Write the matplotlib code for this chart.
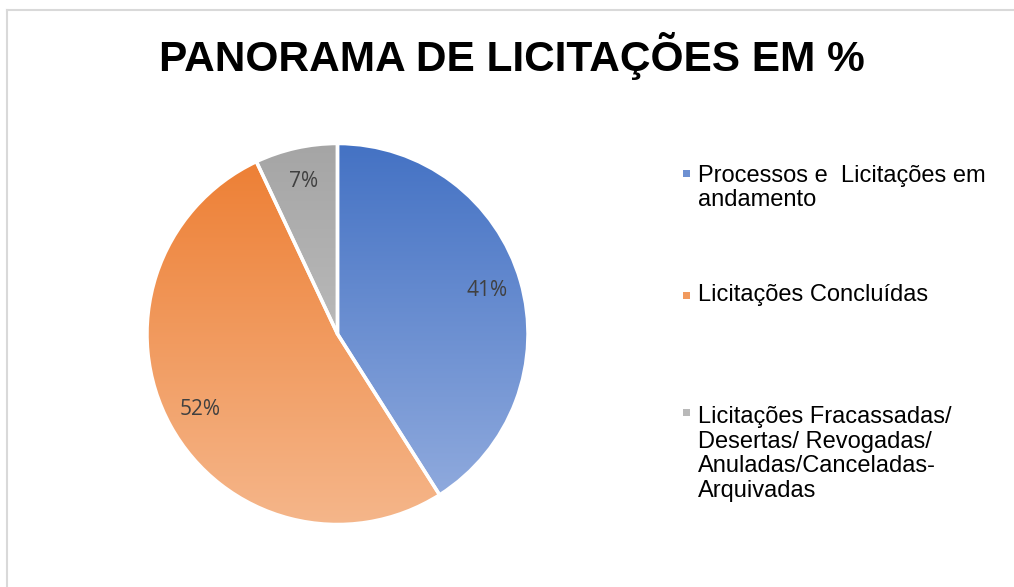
import numpy as np
from matplotlib import pyplot as plt
from matplotlib import colors as mcolors
from matplotlib.patches import Rectangle
from matplotlib.lines import Line2D

labels = ["Processos e  Licitações em\nandamento",
          "Licitações Concluídas",
          "Licitações Fracassadas/\nDesertas/ Revogadas/\nAnuladas/Canceladas-\nArquivadas"]
values = [41, 52, 7]
top_colors = ["#4472C4", "#ED7D31", "#A5A5A5"]
bottom_colors = ["#95AEDF", "#F5B68A", "#CDCDCD"]

W, H = 1014, 587
fig = plt.figure(figsize=(W / 100, H / 100), dpi=100)
fig.patch.set_facecolor("white")

# chart border (light gray), only top and left visible
fig.lines.append(Line2D([6.5 / W, 1.05], [1 - 9.5 / H, 1 - 9.5 / H], transform=fig.transFigure,
                        color="#D9D9D9", linewidth=1.5))
fig.lines.append(Line2D([6.5 / W, 6.5 / W], [-0.05, 1 - 9.5 / H], transform=fig.transFigure,
                        color="#D9D9D9", linewidth=1.5))

fig.text(512 / W, 1 - 56 / H, "PANORAMA DE LICITAÇÕES EM %", ha="center", va="center",
         fontsize=30.5, fontweight="bold", family="Liberation Sans", color="black")

cx, cy, r = 337.5, 334, 190.5
ax = fig.add_axes([(cx - r) / W, (H - cy - r) / H, 2 * r / W, 2 * r / H])

wedges, texts, autotexts = ax.pie(values, startangle=90, counterclock=False, radius=1,
                                  autopct="%1.0f%%", pctdistance=0.82,
                                  wedgeprops=dict(edgecolor="white", linewidth=2.5),
                                  textprops=dict(color="#404040", fontsize=15, family="Open Sans"))

for w, c0, c1 in zip(wedges, top_colors, bottom_colors):
    a = np.array(mcolors.to_rgb(c0))
    b = np.array(mcolors.to_rgb(c1))
    t = np.linspace(0, 1, 256)[:, None, None]
    grad = a * (1 - t) + b * t
    im = ax.imshow(grad, extent=(-1, 1, -1, 1), origin="upper", aspect="auto", zorder=0.5)
    im.set_clip_path(w)
    w.set_facecolor("none")
    w.set_zorder(1)
for at in autotexts:
    at.set_zorder(3)
ax.set_xlim(-1, 1)
ax.set_ylim(-1, 1)
ax.set_aspect("equal")
ax.axis("off")

# legend
text_y = [188, 295, 454]
mark_y = [173, 295, 412]
for lab, ty, my, c0, c1 in zip(labels, text_y, mark_y, top_colors, bottom_colors):
    mc = (np.array(mcolors.to_rgb(c0)) + np.array(mcolors.to_rgb(c1))) / 2
    fig.patches.append(Rectangle((683 / W, 1 - (my + 3.5) / H), 7 / W, 7 / H,
                                 transform=fig.transFigure, facecolor=mc, edgecolor="none"))
    fig.text(698 / W, 1 - ty / H, lab, ha="left", va="center", fontsize=17,
             family="Liberation Sans", color="black", linespacing=1.17)

fig.savefig("out.png", dpi=100)
